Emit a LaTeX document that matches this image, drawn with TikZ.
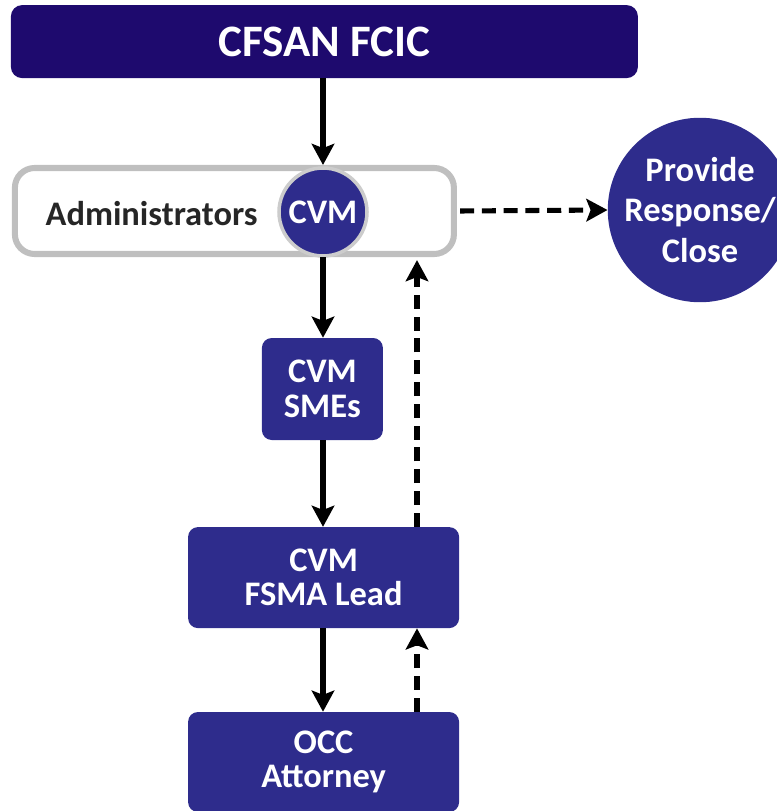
\documentclass[tikz,border=0pt]{standalone}
\usepackage{fontspec}
\setmainfont{Carlito}
\usepackage{tikz}
\usetikzlibrary{arrows.meta, positioning}
\definecolor{fcicnavy}{HTML}{1E0A6E}
\definecolor{cvmblue}{HTML}{2E2C8C}
\definecolor{rimgray}{HTML}{BFBFBF}
\tikzset{
    headbar/.style={rectangle, fill=fcicnavy, rounded corners=8pt, text=white, font=\fontsize{32}{36}\selectfont\bfseries, minimum width=15.675cm, minimum height=1.825cm},
    adminbox/.style={rectangle, draw=rimgray, line width=4.3pt, rounded corners=14pt, minimum width=10.975cm, minimum height=2.15cm},
    block/.style={rectangle, fill=cvmblue, rounded corners=7pt, text=white, align=center, font=\fontsize{24.5}{24.5}\selectfont\bfseries},
    badge/.style={circle, fill=cvmblue, draw=rimgray!80, line width=2.5pt, text=white, minimum size=2.2cm, inner sep=0pt, font=\fontsize{24.5}{24.5}\selectfont\bfseries},
    endpoint/.style={circle, fill=cvmblue, text=white, minimum size=4.35cm, inner sep=0pt, align=center, font=\fontsize{24.5}{29}\selectfont\bfseries},
    arrow/.style={line width=3.6pt, -{Stealth[length=15pt, width=16pt, inset=3pt]}},
    back/.style={arrow, dash pattern=on 10pt off 5.5pt}
}
\begin{document}
\begin{tikzpicture}
    \useasboundingbox (0,0) rectangle (19.4,-20.275);

    % Top: FCIC
    \node (cfsan) [headbar] at (8.11,-1.04) {CFSAN FCIC};

    % Administrators
    \node (admin) [adminbox] at (5.86,-5.275) {};
    \node (adminlabel) [font=\fontsize{24.5}{24.5}\selectfont\bfseries, text=black!85] at (3.79,-5.33) {Administrators};
    \node (cvm) [badge] at (8.075,-5.3) {CVM};

    % Response
    \node (respond) [endpoint] at (17.5,-5.25) {Provide\\Response/\\Close};

    % Review chain
    \node (smes) [block, minimum width=3.025cm, minimum height=2.55cm] at (8.06,-9.725) {CVM\\SMEs};
    \node (lead) [block, minimum width=6.775cm, minimum height=2.525cm] at (8.09,-14.44) {CVM\\FSMA Lead};
    \node (occ) [block, minimum width=6.775cm, minimum height=2.5cm] at (8.09,-19.05) {OCC\\Attorney};

    \coordinate (upline) at (10.425,0);

    % Flow arrows
    \draw[arrow] (cfsan.south -| cvm) -- (admin.north -| cvm);
    \draw[arrow] (cvm.south |- admin.south) -- (smes.north -| cvm);
    \draw[arrow] (smes.south -| cvm) -- (lead.north -| cvm);
    \draw[arrow] (lead.south -| cvm) -- (occ.north -| cvm);

    % Return arrows
    \draw[back] (occ.north -| upline) -- (lead.south -| upline);
    \draw[back] (lead.north -| upline) -- ([yshift=-2.2pt]admin.south -| upline);
    \draw[back] ([xshift=2.2pt]admin.east) -- (respond.west);
\end{tikzpicture}
\end{document}
